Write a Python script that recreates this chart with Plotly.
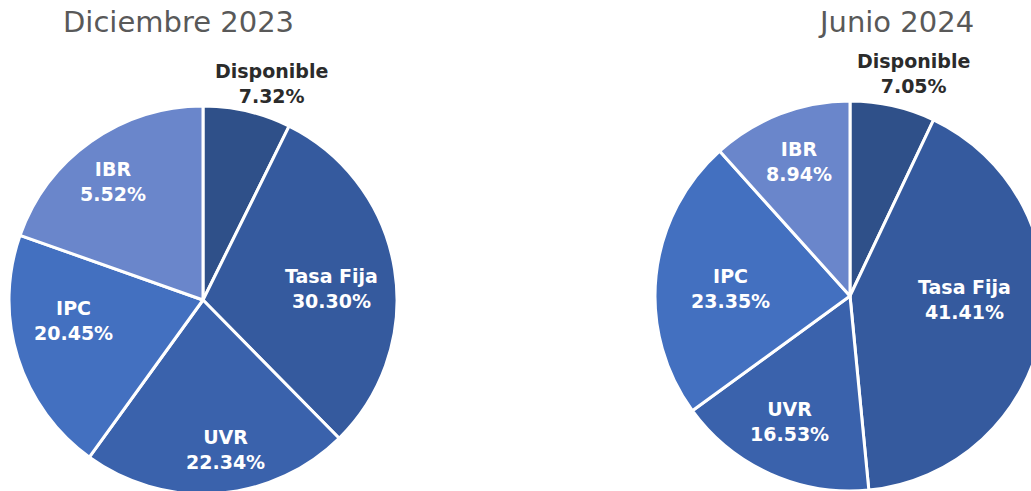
import plotly.graph_objects as go

# ---- data ----
categories = ["Disponible", "Tasa Fija", "UVR", "IPC", "IBR"]

# slice sizes as drawn (percent of pie)
dec_values = [7.32, 30.30, 22.34, 20.45, 19.59]
jun_values = [7.05, 41.41, 16.53, 23.35, 11.66]

# percentages printed on the labels
dec_labels_pct = ["7.32%", "30.30%", "22.34%", "20.45%", "5.52%"]
jun_labels_pct = ["7.05%", "41.41%", "16.53%", "23.35%", "8.94%"]

titles = ["Diciembre 2023", "Junio 2024"]

# ---- style ----
colors = ["#2F5089", "#355A9E", "#3A62AC", "#4370C0", "#6A86CB"]
label_colors = ["#2B2B2B", "white", "white", "white", "white"]

# label placement: pixel offset of each label from its pie centre
dec_label_offsets = [(68, -217), (128, -12), (22, 149), (-130, 20), (-90, -119)]
jun_label_offsets = [(63, -223), (114, 3), (-60, 125), (-120, -8), (-51, -135)]

W, H = 1060, 500
FONT = "Verdana, DejaVu Sans, sans-serif"
LABEL_SIZE = 19

# pie centre and radius in pixels
pies = [
    dict(values=dec_values, pcts=dec_labels_pct, offsets=dec_label_offsets,
         cx=203, cy=300, r=194, title_x=178),
    dict(values=jun_values, pcts=jun_labels_pct, offsets=jun_label_offsets,
         cx=850, cy=296, r=195, title_x=896),
]

fig = go.Figure()

for i, p in enumerate(pies):
    cx, cy, r = p["cx"], p["cy"], p["r"]
    fig.add_trace(go.Pie(
        labels=categories,
        values=p["values"],
        textinfo="none",
        sort=False,
        direction="clockwise",
        rotation=0,
        marker=dict(colors=colors, line=dict(color="white", width=3)),
        domain=dict(x=[(cx - r) / W, (cx + r) / W],
                    y=[1 - (cy + r) / H, 1 - (cy - r) / H]),
        showlegend=False,
        hoverinfo="label+percent",
    ))
    for cat, pct, (dx, dy), col in zip(categories, p["pcts"], p["offsets"], label_colors):
        fig.add_annotation(
            text=f"<b>{cat}<br>{pct}</b>",
            x=(cx + dx) / W, y=1 - (cy + dy) / H,
            xref="paper", yref="paper",
            showarrow=False, xanchor="center", yanchor="middle",
            align="center",
            font=dict(size=LABEL_SIZE, color=col, family=FONT),
        )
    fig.add_annotation(
        text=titles[i], x=p["title_x"] / W, y=1 - 22 / H,
        xref="paper", yref="paper", showarrow=False,
        xanchor="center", yanchor="middle",
        font=dict(size=29, color="#595959", family=FONT),
    )

fig.update_layout(
    width=W, height=H,
    margin=dict(l=0, r=0, t=0, b=0),
    paper_bgcolor="white",
    plot_bgcolor="white",
    font=dict(family=FONT),
)

fig.write_html(
    "out.html",
    config={"displayModeBar": False},
    post_script="document.documentElement.style.overflow='hidden';document.body.style.overflow='hidden';document.body.style.margin='0';",
)
